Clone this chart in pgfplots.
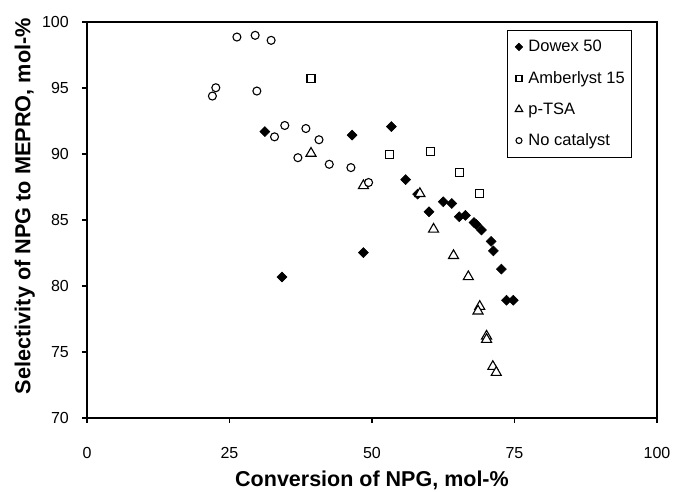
\documentclass[border=0pt]{standalone}
\usepackage{fontspec}
\setmainfont{Liberation Sans}
\usepackage{pgfplots}
\pgfplotsset{compat=1.18}

\begin{document}
\begin{tikzpicture}
\useasboundingbox (-87pt,-74pt) rectangle (586pt,418pt);
\begin{axis}[
  scale only axis, width=570pt, height=396pt,
  xmin=0, xmax=100, ymin=70, ymax=100,
  axis lines=box,
  xtick={0,25,50,75,100}, ytick={70,75,80,85,90,95,100},
  /pgf/number format/assume math mode=true,
  tick align=outside, xtick pos=left, ytick pos=left,
  major tick length=5pt,
  axis line style={line width=1.1pt, black},
  every tick/.style={black, line width=1.1pt},
  tick label style={font=\fontsize{16}{19}\selectfont},
  xticklabel style={anchor=base, yshift=-36pt, inner sep=0pt},
  yticklabel style={anchor=east, xshift=-13pt, inner sep=0pt},
  xlabel={\textbf{Conversion of NPG, mol-\%}},
  ylabel={\textbf{Selectivity of NPG to MEPRO, mol-\%}},
  every axis x label/.style={at={(axis description cs:0.5,-0.174)}, anchor=base,
    font=\fontsize{21.5}{24}\selectfont},
  every axis y label/.style={at={(axis description cs:-0.109,0.535)}, rotate=90, anchor=center,
    font=\fontsize{21.7}{25}\selectfont},
  legend style={at={(0.737,0.98)}, anchor=north west, draw=black, line width=0.9pt,
    font=\fontsize{16.5}{19}\selectfont, row sep=14pt, inner xsep=5pt, inner ysep=8pt,
    cells={anchor=west}},
  legend image code/.code={\path (0pt,0pt) (13pt,0pt);
    \draw[#1, every mark/.append style={scale=0.75}] plot coordinates {(6pt,0pt)};},
  legend cell align=left,
]
\addplot[only marks, mark=square*, mark size=3.5pt, mark options={rotate=45, fill=black, draw=black, line width=0.6pt}]
coordinates {
(31.2,91.70) (34.2,80.68) (46.5,91.43) (48.5,82.53) (53.4,92.08)
(55.9,88.06) (58.0,86.96) (60.0,85.62) (62.5,86.38) (64.0,86.25)
(65.3,85.25) (66.4,85.35) (67.9,84.81) (68.3,84.66) (69.2,84.24)
(70.9,83.38) (71.3,82.66) (72.7,81.28) (73.6,78.92) (74.8,78.92)
};
\addlegendentry{Dowex 50}
\addplot[only marks, mark=square*, mark size=4pt, mark options={fill=white, draw=black, line width=1.1pt}]
coordinates {
(39.3,95.75) (53.1,89.97) (60.3,90.20) (65.4,88.58) (68.9,87.00)
};
\addlegendentry{Amberlyst 15}
\addplot[only marks, mark=triangle*, mark size=5.8pt, mark options={fill=white, draw=black, line width=1.1pt}]
coordinates {
(39.3,90.05) (48.5,87.60) (58.4,87.00) (60.8,84.30) (64.3,82.30)
(66.9,80.70) (68.9,78.45) (68.6,78.10) (70.1,76.20) (70.1,75.95)
(71.2,73.90) (71.8,73.45)
};
\addlegendentry{p-TSA}
\addplot[only marks, mark=*, mark size=4pt, mark options={fill=white, draw=black, line width=1.1pt}]
coordinates {
(26.3,98.86) (29.5,98.99) (32.3,98.61) (22.6,95.02) (22.0,94.39)
(29.8,94.77) (34.7,92.16) (32.9,91.30) (38.4,91.93) (40.7,91.08)
(37.0,89.72) (42.5,89.22) (46.3,88.97) (49.4,87.84)
};
\addlegendentry{No catalyst}
\end{axis}
\draw[line width=1.1pt, black] (0pt,396pt) -- (570pt,396pt) -- (570pt,0pt);
\end{tikzpicture}
\end{document}
